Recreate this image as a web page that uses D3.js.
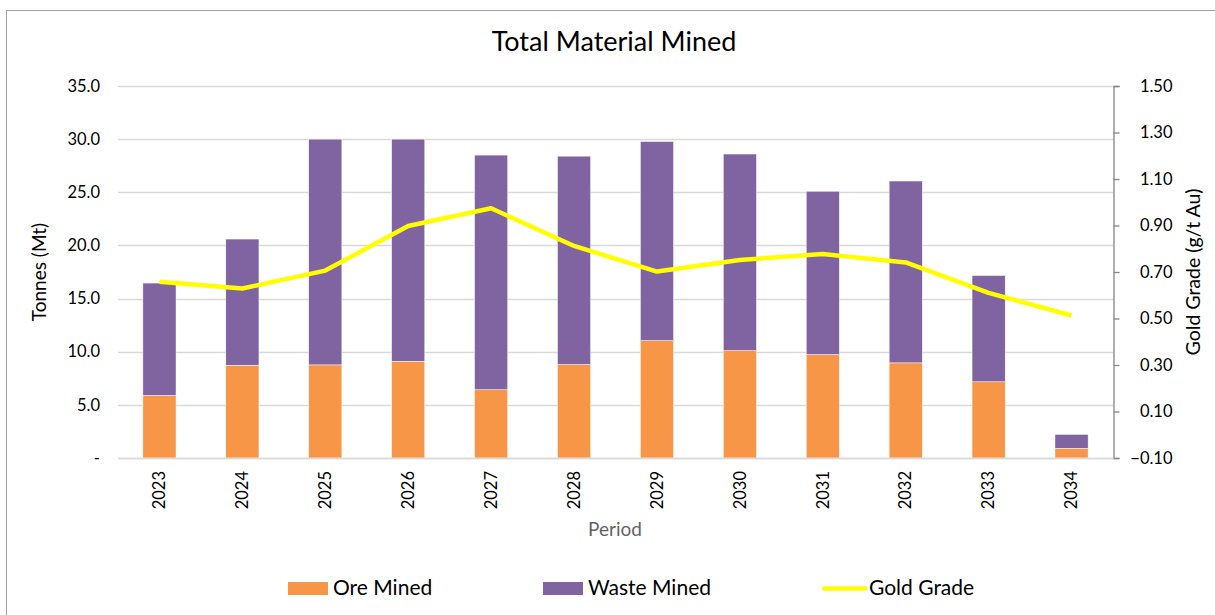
<!DOCTYPE html>
<html>
<head>
<meta charset="utf-8">
<script src="https://cdn.jsdelivr.net/npm/d3@7"></script>
<style>
  body { margin: 0; background: #fff; }
  text { font-family: Lato, "Open Sans", sans-serif; fill: #000; }
</style>
</head>
<body>
<div id="chart"></div>
<script>
// Data
var years = ["2023", "2024", "2025", "2026", "2027", "2028", "2029", "2030", "2031", "2032", "2033", "2034"];
var oreMined = [5.88, 8.73, 8.76, 9.10, 6.42, 8.79, 11.04, 10.10, 9.73, 8.95, 7.17, 0.91];
var wasteMined = [10.58, 11.87, 21.24, 20.90, 22.08, 19.61, 18.74, 18.50, 15.37, 17.11, 10.00, 1.31];
var goldGrade = [0.658, 0.629, 0.706, 0.898, 0.974, 0.812, 0.702, 0.752, 0.777, 0.741, 0.610, 0.513];
var leftTicks = [0, 5, 10, 15, 20, 25, 30, 35];
var rightTicks = [-0.1, 0.1, 0.3, 0.5, 0.7, 0.9, 1.1, 1.3, 1.5];

var width = 1215, height = 615;
var margin = {top: 86, right: 102, bottom: 157, left: 118};

var svg = d3.select("#chart")
  .append("svg")
  .attr("width", width)
  .attr("height", height);

// chart border
svg.append("rect")
  .attr("x", 6.5).attr("y", 10.5)
  .attr("width", 1230).attr("height", 640)
  .attr("fill", "none")
  .attr("stroke", "#a6a6a6")
  .attr("stroke-width", 1);

var x = d3.scaleBand()
  .domain(years)
  .range([margin.left, width - margin.right])
  .paddingInner(0.6)
  .paddingOuter(0.3);

var y = d3.scaleLinear()
  .domain([0, 35])
  .range([height - margin.bottom, margin.top]);

var y2 = d3.scaleLinear()
  .domain([-0.1, 1.5])
  .range([height - margin.bottom, margin.top]);

// gridlines
svg.append("g")
  .selectAll("line")
  .data(leftTicks)
  .enter().append("line")
    .attr("x1", margin.left)
    .attr("x2", width - margin.right)
    .attr("y1", function(d) { return Math.round(y(d)) + 0.5; })
    .attr("y2", function(d) { return Math.round(y(d)) + 0.5; })
    .attr("stroke", "#d9d9d9")
    .attr("stroke-width", 1.3);

// stacked bars
var stackData = years.map(function(yr, i) {
  return {year: yr, ore: oreMined[i], waste: wasteMined[i]};
});
var stack = d3.stack().keys(["ore", "waste"]);
var series = stack(stackData);
var colors = {ore: "#f79646", waste: "#8064a2"};

svg.append("g")
  .selectAll("g")
  .data(series)
  .enter().append("g")
    .attr("fill", function(d) { return colors[d.key]; })
  .selectAll("rect")
  .data(function(d) { return d; })
  .enter().append("rect")
    .attr("x", function(d) { return x(d.data.year); })
    .attr("y", function(d) { return y(d[1]); })
    .attr("height", function(d) { return y(d[0]) - y(d[1]); })
    .attr("width", x.bandwidth())
    .attr("stroke", "#ffffff")
    .attr("stroke-width", 0.5);

// gold grade line
var line = d3.line()
  .x(function(d, i) { return x(years[i]) + x.bandwidth() / 2; })
  .y(function(d) { return y2(d); });

svg.append("path")
  .datum(goldGrade)
  .attr("d", line)
  .attr("fill", "none")
  .attr("stroke", "#ffff00")
  .attr("stroke-width", 4.5)
  .attr("stroke-linejoin", "round");

// left axis (labels only)
var leftAxis = d3.axisLeft(y)
  .tickValues(leftTicks)
  .tickSize(0)
  .tickPadding(18)
  .tickFormat(function(d) { return d === 0 ? "-" : d3.format(".1f")(d); });
var gl = svg.append("g")
  .attr("transform", "translate(" + margin.left + ",0)")
  .call(leftAxis);
gl.select(".domain").remove();
gl.selectAll("text").style("font-size", "16.5px").attr("fill", "#000");

// right axis
var rightAxis = d3.axisRight(y2)
  .tickValues(rightTicks)
  .tickSize(6)
  .tickPadding(0)
  .tickFormat(d3.format(".2f"));
var gr = svg.append("g")
  .attr("transform", "translate(" + (width - margin.right + 0.5) + ",0)")
  .call(rightAxis);
gr.select(".domain").attr("stroke", "#868686").attr("stroke-width", 1.3);
gr.selectAll(".tick line").attr("stroke", "#868686").attr("stroke-width", 1.3);
gr.selectAll("text")
  .style("font-size", "16.5px")
  .attr("fill", "#000")
  .attr("text-anchor", "end")
  .attr("x", 59);

// bottom axis
var bottomAxis = d3.axisBottom(x).tickSize(0).tickPadding(0);
var gb = svg.append("g")
  .attr("transform", "translate(0," + (height - margin.bottom) + ")")
  .call(bottomAxis);
gb.select(".domain").attr("stroke", "#d9d9d9").attr("stroke-width", 1.3);
gb.selectAll("text")
  .style("font-size", "16.5px")
  .attr("fill", "#000")
  .attr("transform", "rotate(-90)")
  .attr("text-anchor", "end")
  .attr("x", -13)
  .attr("y", 0)
  .attr("dy", "0.35em");

// title
svg.append("text")
  .attr("x", 614)
  .attr("y", 51)
  .attr("text-anchor", "middle")
  .style("font-size", "27px")
  .text("Total Material Mined");

// axis titles
svg.append("text")
  .attr("transform", "translate(46," + (margin.top + (height - margin.bottom - margin.top) / 2) + ") rotate(-90)")
  .attr("text-anchor", "middle")
  .style("font-size", "19px")
  .text("Tonnes (Mt)");

svg.append("text")
  .attr("transform", "translate(1200," + (margin.top + (height - margin.bottom - margin.top) / 2) + ") rotate(-90)")
  .attr("text-anchor", "middle")
  .style("font-size", "19.5px")
  .text("Gold Grade (g/t Au)");

svg.append("text")
  .attr("x", 615)
  .attr("y", 536)
  .attr("text-anchor", "middle")
  .style("font-size", "19px")
  .style("fill", "#636363")
  .text("Period");

// legend
var legendItems = [
  {label: "Ore Mined", color: "#f79646", type: "rect", x: 288},
  {label: "Waste Mined", color: "#8064a2", type: "rect", x: 543},
  {label: "Gold Grade", color: "#ffff00", type: "line", x: 824}
];
var legend = svg.append("g").attr("class", "legend");
legendItems.forEach(function(item) {
  if (item.type === "rect") {
    legend.append("rect")
      .attr("x", item.x).attr("y", 582)
      .attr("width", 40).attr("height", 13)
      .attr("fill", item.color);
  } else {
    legend.append("line")
      .attr("x1", item.x).attr("x2", item.x + 41)
      .attr("y1", 588.5).attr("y2", 588.5)
      .attr("stroke", item.color)
      .attr("stroke-width", 4.5)
      .attr("stroke-linecap", "round");
  }
  legend.append("text")
    .attr("x", item.x + 45)
    .attr("y", 595)
    .style("font-size", "21px")
    .text(item.label);
});
</script>
</body>
</html>
